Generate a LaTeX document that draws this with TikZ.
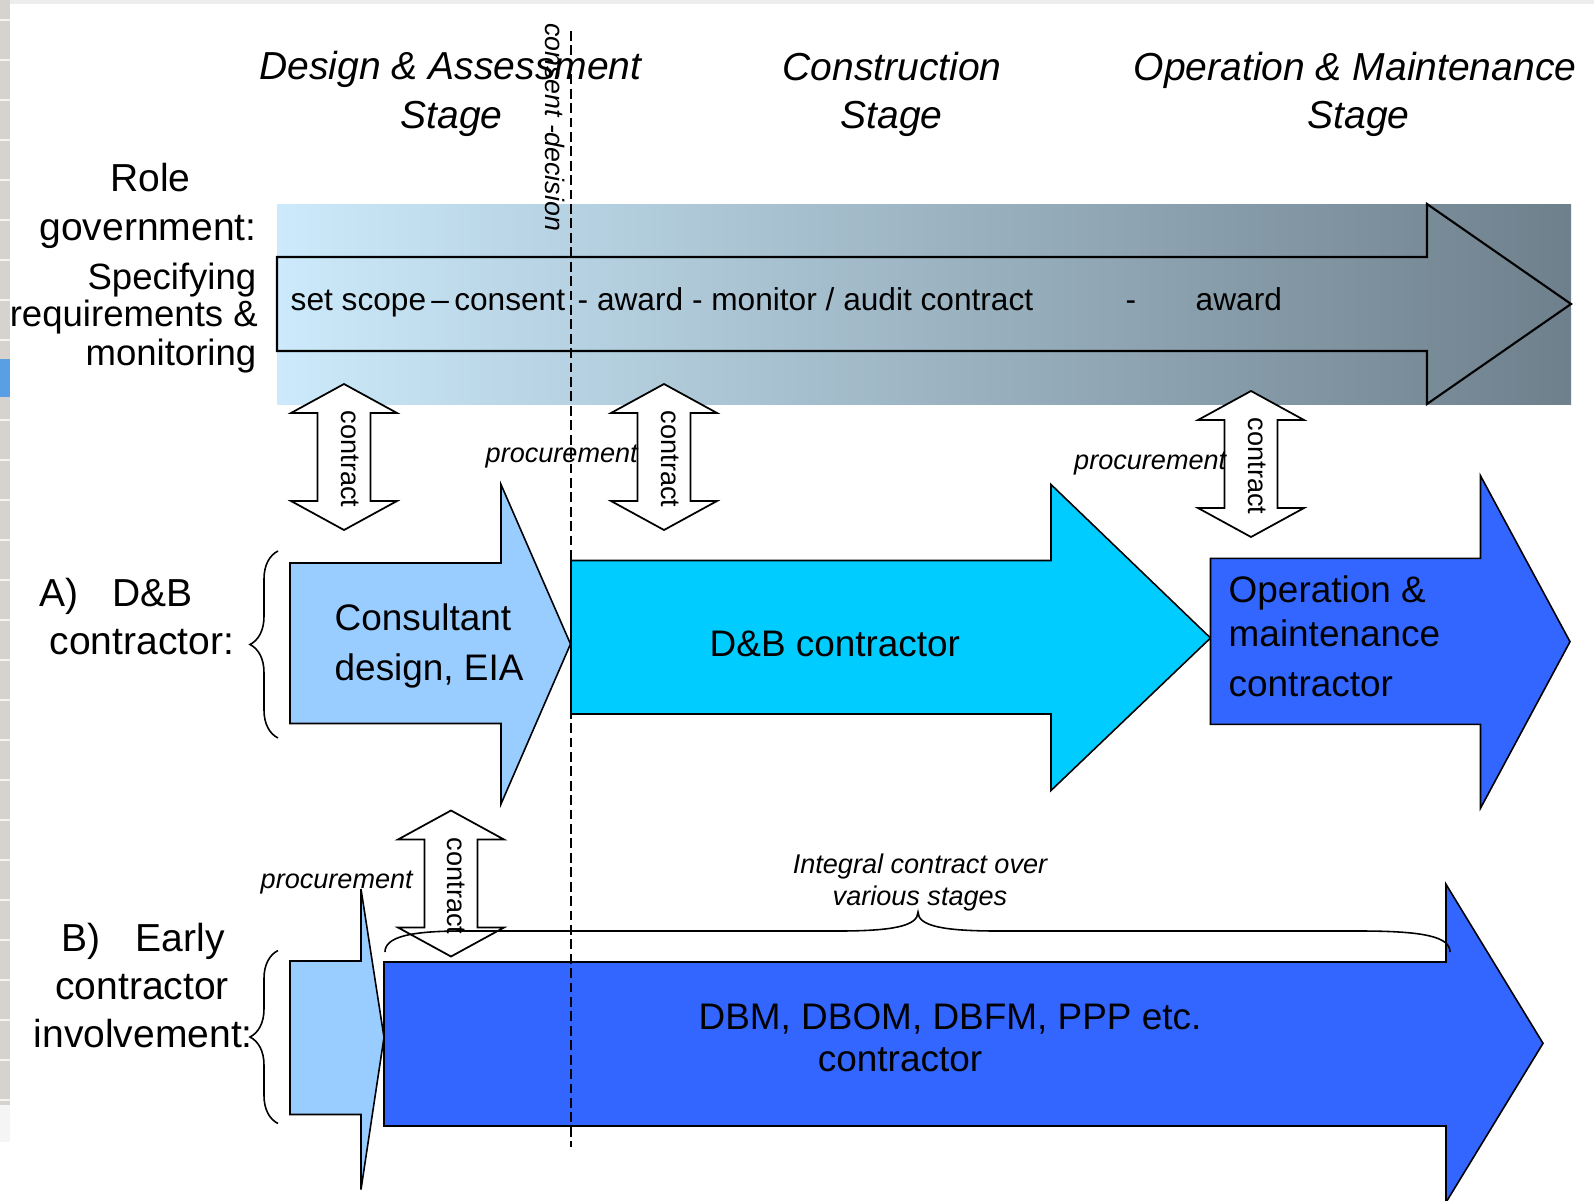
\documentclass[tikz,border=0pt]{standalone}
\usepackage{fontspec}
\setmainfont{Liberation Sans}
\usetikzlibrary{decorations.pathreplacing}
\definecolor{lblue}{HTML}{99CCFF}
\definecolor{cyanb}{HTML}{00CCFF}
\definecolor{royal}{HTML}{3366FF}
\definecolor{gradL}{RGB}{204,234,251}
\definecolor{gradR}{RGB}{110,128,140}
\definecolor{stripgrey}{RGB}{214,211,206}
\definecolor{stripblue}{RGB}{90,158,228}
\newcommand\dblarr[3]{%
  \draw[darr] (#1,#2) -- ({#1+53},{#2+29}) -- ({#1+26.5},{#2+29}) -- ({#1+26.5},{#3-29})
    -- ({#1+53},{#3-29}) -- (#1,#3) -- ({#1-53},{#3-29}) -- ({#1-26.5},{#3-29})
    -- ({#1-26.5},{#2+29}) -- ({#1-53},{#2+29}) -- cycle;}
% left, shaft top, shaft bottom, head x, head top, head bottom, tip x, tip y, colour
\newcommand\onearr[9]{%
  \draw[carr,fill=#9] (#1,#2) -- (#4,#2) -- (#4,#5) -- (#7,#8) -- (#4,#6) -- (#4,#3) -- (#1,#3) -- cycle;}
\begin{document}
\begin{tikzpicture}[x=0.01cm,y=-0.01cm,
  hd/.style={font=\fontsize{11.1}{13}\selectfont\itshape, anchor=base, inner sep=0},
  big/.style={font=\fontsize{11.1}{13}\selectfont, anchor=base west, inner sep=0},
  spec/.style={font=\fontsize{10.4}{12}\selectfont, anchor=base east, inner sep=0},
  inarr/.style={font=\fontsize{10.5}{12}\selectfont, anchor=base west, inner sep=0},
  bar/.style={font=\fontsize{9}{11}\selectfont, anchor=base west, inner sep=0},
  proc/.style={font=\fontsize{7.7}{9}\selectfont\itshape, anchor=base west, inner sep=0},
  ctr/.style={font=\fontsize{7.7}{9}\selectfont, rotate=-90, inner sep=0},
  darr/.style={draw=black, fill=white, line width=0.5pt, line join=miter},
  carr/.style={draw=black, line width=0.45pt, line join=miter},
  brc/.style={decorate, line width=0.45pt},
]
\useasboundingbox (0,0) rectangle (1594,1200);
\clip (0,0) rectangle (1594,1200);
\fill[white] (0,0) rectangle (1594,1200);
% slide edge decoration
\fill[black!7] (0,0) rectangle (1594,4);
\fill[stripgrey] (0,0) rectangle (10,1105);
\foreach \yy in {20,60,...,1100} \draw[white!70!stripgrey, line width=0.6pt] (0,\yy) -- (10,\yy);
\fill[stripblue] (0,359) rectangle (10,397);
\fill[black!4] (0,1105) rectangle (10,1142);

% government bar
\fill[left color=gradL, right color=gradR] (277,204) rectangle (1571,404);
\draw[line width=0.6pt, line join=miter] (277,257) -- (1427,257) -- (1427,204) -- (1571,304)
  -- (1427,404) -- (1427,351) -- (277,351) -- cycle;

% contract double arrows
\dblarr{344}{384}{530}
\dblarr{664}{384}{530}
\dblarr{1251}{391}{537}
\dblarr{451}{810.5}{956.5}

% stage arrows
\onearr{290}{563}{723.5}{501}{484.5}{804}{570.5}{644}{lblue}
\onearr{571}{560.5}{714}{1051}{484.5}{790.5}{1210.5}{638}{cyanb}
\onearr{1210.5}{558.3}{724.3}{1480.5}{475.8}{808.2}{1570}{641.7}{royal}
\onearr{290}{961}{1114.5}{361}{889}{1189.5}{384}{1037.3}{lblue}
\onearr{384}{962}{1126}{1446}{884.3}{1202.3}{1543}{1043.3}{royal}

% braces
\coordinate (braA1) at (278,738);
\coordinate (braA2) at (278,551);
\coordinate (braB1) at (278,1123.5);
\coordinate (braB2) at (278,950.5);
\draw[brc, decoration={brace, amplitude=0.28cm}] (braA1) -- (braA2);
\draw[brc, decoration={brace, amplitude=0.28cm}] (braB1) -- (braB2);
\coordinate (braI1) at (385,952);
\coordinate (braItip) at (918,912);
\coordinate (braI2) at (1450,952);
\draw[line width=0.45pt] (braI1) .. controls (385,937) and (410,931) .. (462,931) -- (838,931)
  .. controls (893,931) and (918,926) .. (braItip)
  .. controls (918,926) and (943,931) .. (998,931) -- (1360,931)
  .. controls (1425,931) and (1450,937) .. (braI2);

% consent decision line
\coordinate (dtop) at (571,31);
\coordinate (dbot) at (571,1147);
\draw[line width=0.5pt, dash pattern=on 2.8pt off 1.3pt] (dtop) -- (dbot);

% headings
\node[hd] (hdA1) at (450.5,79.3) {Design \& Assessment};
\node[hd] (hdA2) at (451.5,128.3) {Stage};
\node[hd] (hdC1) at (892,80) {Construction};
\node[hd] (hdC2) at (891.6,128.3) {Stage};
\node[hd] (hdO1) at (1355,80) {Operation \& Maintenance};
\node[hd] (hdO2) at (1358.5,128.3) {Stage};

% role government
\node[hd, font=\fontsize{11.1}{13}\selectfont] (role1) at (150.5,191.7) {Role};
\node[hd, font=\fontsize{11.1}{13}\selectfont] (role2) at (148,240) {government:};
\node[spec] (spec1) at (257,289.3) {Specifying};
\node[spec] (spec2) at (258.5,326.7) {requirements \&};
\node[spec] (spec3) at (257,365) {monitoring};

% bar text
\node[bar] (bar1) at (290,310.5) {set scope\,–\,consent};
\node[bar] (bar2) at (577,310.5) {- award - monitor / audit contract};
\node[bar] (bar3) at (1125,310.5) {-};
\node[bar] (bar4) at (1195,310.5) {award};

% consent-decision
\node[ctr, font=\fontsize{7.6}{9}\selectfont\itshape] (cdec) at (555,127) {consent -decision};

% contract labels
\node[ctr] (ct1) at (350.5,459) {contract};
\node[ctr] (ct2) at (670,459) {contract};
\node[ctr] (ct3) at (1257,466) {contract};
\node[ctr] (ct4) at (456.5,886) {contract};

% procurement labels
\node[proc] (pr1) at (485,462.5) {procurement};
\node[proc] (pr2) at (1073.5,469) {procurement};
\node[proc] (pr3) at (260,888) {procurement};

% row labels
\node[big] (Aa) at (38.5,606.7) {A)};
\node[big] (Ab) at (112,606.7) {D\&B};
\node[big] (Ac) at (49,654) {contractor:};
\node[big] (Ba) at (61,951.7) {B)};
\node[big] (Bb) at (135,951.7) {Early};
\node[big] (Bc) at (54.6,999.3) {contractor};
\node[big] (Bd) at (33,1047.3) {involvement:};

% arrow texts
\node[inarr] (cons1) at (334,630) {Consultant};
\node[inarr] (cons2) at (334,680) {design, EIA};
\node[inarr] (dnb) at (709,656.7) {D\&B contractor};
\node[inarr] (om1) at (1228,602.7) {Operation \&};
\node[inarr] (om2) at (1228,646) {maintenance};
\node[inarr] (om3) at (1228,696) {contractor};
\node[inarr, anchor=base] (dbm1) at (950,1029.3) {DBM, DBOM, DBFM, PPP etc.};
\node[inarr, anchor=base] (dbm2) at (900,1071.7) {contractor};

% integral contract
\node[hd, font=\fontsize{7.7}{9}\selectfont\itshape] (int1) at (920,873.3) {Integral contract over};
\node[hd, font=\fontsize{7.7}{9}\selectfont\itshape] (int2) at (920,905) {various stages};
\end{tikzpicture}
\end{document}
